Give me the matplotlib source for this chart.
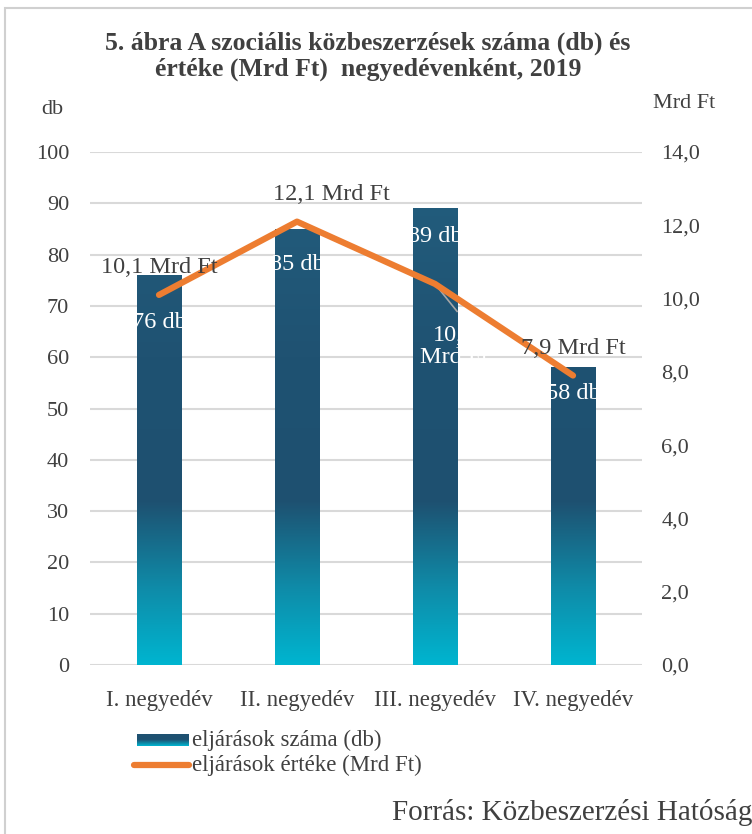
import numpy as np
import matplotlib.pyplot as plt
from matplotlib.colors import LinearSegmentedColormap
from matplotlib.patches import Rectangle

categories = ["I. negyedév", "II. negyedév", "III. negyedév", "IV. negyedév"]
counts = [76, 85, 89, 58]
values = [10.1, 12.1, 10.4, 7.9]
value_labels = ["10,1 Mrd Ft", "12,1 Mrd Ft", "10,4\nMrd Ft", "7,9 Mrd Ft"]
count_labels = ["76 db", "85 db", "89 db", "58 db"]
left_ticks = list(range(0, 101, 10))
right_ticks = [0, 2, 4, 6, 8, 10, 12, 14]

plt.rcParams['font.family'] = ['Liberation Serif', 'DejaVu Serif']
orange = "#ED7D31"
grid_c = "#D9D9D9"
txt_c = "#404040"

fig = plt.figure(figsize=(7.52, 8.34), dpi=100)
fig.patches.append(Rectangle((5 / 752, -0.1), 1.2, (834 - 8) / 834 + 0.1,
                             transform=fig.transFigure, fill=False,
                             edgecolor="#D0D0D0", linewidth=1.5))

ax = fig.add_axes([90 / 752, (834 - 665) / 834, 552 / 752, 513 / 834])
ax2 = ax.twinx()

x = np.arange(len(categories))
bars = ax.bar(x, counts, width=0.32, color="none", zorder=2)

cmap = LinearSegmentedColormap.from_list(
    "g", [(0.0, "#00B5D0"), (0.15, "#0F8BA8"), (0.32, "#1E5070"),
          (0.6, "#1F5272"), (1.0, "#235F7F")])
grad = np.linspace(0, 1, 256).reshape(-1, 1)
for b in bars:
    im = ax.imshow(grad, cmap=cmap, origin="lower", aspect="auto",
                   extent=[b.get_x(), b.get_x() + b.get_width(), 0, 100], zorder=2)
    im.set_clip_path(b)

ax.set_xlim(-0.5, 3.5)
ax.set_ylim(0, 100)
ax.set_yticks(left_ticks)
ax.set_xticks(x)
ax.set_xticklabels(categories)
ax.yaxis.grid(True, color=grid_c, linewidth=1.5)
ax.set_axisbelow(True)
for s in ax.spines.values():
    s.set_visible(False)
for s in ax2.spines.values():
    s.set_visible(False)
ax.tick_params(length=0, labelsize=16, colors=txt_c, pad=15)
ax.tick_params(axis="x", labelsize=16.5, pad=18)

count_offs = [-9.2, -7, -5.5, -5]
for xi, c, lab, o in zip(x, counts, count_labels, count_offs):
    ax.text(xi, c + o, lab, ha="center", va="center", color="white",
            fontsize=17.5, zorder=3)

ax2.plot(x, values, color=orange, linewidth=4.5, solid_capstyle="round", zorder=4)
ax2.set_ylim(0, 14)
ax2.set_yticks(right_ticks)
ax2.set_yticklabels([f"{t:.1f}".replace(".", ",") for t in right_ticks])
ax2.tick_params(length=0, labelsize=16, colors=txt_c, pad=14)
ax2.set_zorder(ax.get_zorder() + 1)
ax2.patch.set_visible(False)

offs = [(0, 0.75), (0.25, 0.75), None, (0, 0.75)]
for i, (xi, v, lab) in enumerate(zip(x, values, value_labels)):
    if offs[i] is None:
        ax2.plot([xi, xi + 0.16], [v, v - 0.75], color="#A6A6A6", linewidth=1.2, zorder=3)
        ax2.text(xi + 0.14, v - 1.7, lab, ha="center", va="center", color="white",
                 fontsize=17.5, linespacing=1.05, zorder=3)
    else:
        ax2.text(xi + offs[i][0], v + offs[i][1], lab, ha="center", va="center",
                 color=txt_c, fontsize=17.5, zorder=5)

fig.text(368 / 752, 1 - 56 / 834,
         "5. ábra A szociális közbeszerzések száma (db) és\nértéke (Mrd Ft)  negyedévenként, 2019",
         ha="center", va="center", fontsize=18.5, fontweight="bold", color=txt_c,
         linespacing=1.15)
fig.text(52 / 752, 1 - 110 / 834, "db", ha="center", va="center", fontsize=16, color=txt_c)
fig.text(684 / 752, 1 - 104 / 834, "Mrd Ft", ha="center", va="center", fontsize=16, color=txt_c)

# legend
lg_x0, lg_x1 = 137 / 752, 189 / 752
y1, y2 = 1 - 740 / 834, 1 - 765 / 834
leg_bar = fig.add_axes([lg_x0, y1 - 6 / 834, lg_x1 - lg_x0, 12 / 834])
leg_bar.axis("off")
leg_bar.imshow(np.linspace(1, 0, 50).reshape(-1, 1), cmap=LinearSegmentedColormap.from_list(
    "l", ["#00B5D0", "#1E5070", "#1F5272"]), aspect="auto")
fig.lines.append(plt.Line2D([lg_x0 - 3 / 752, lg_x1], [y2, y2], transform=fig.transFigure,
                            color=orange, linewidth=4.5, solid_capstyle="round"))
fig.text(192 / 752, y1, "eljárások száma (db)", ha="left", va="center", fontsize=16.5, color=txt_c)
fig.text(192 / 752, y2, "eljárások értéke (Mrd Ft)", ha="left", va="center", fontsize=16.5, color=txt_c)

fig.text(752 / 752, 1 - 812 / 834, "Forrás: Közbeszerzési Hatóság", ha="right", va="center",
         fontsize=21, color=txt_c)

fig.savefig("out.png", dpi=100)
